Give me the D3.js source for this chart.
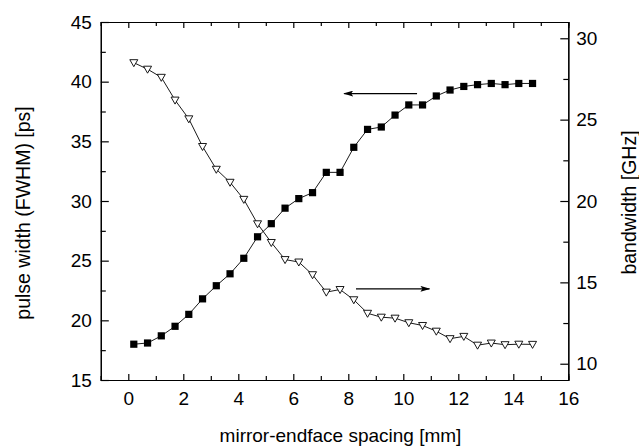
<!DOCTYPE html>
<html>
<head>
<meta charset="utf-8">
<script src="https://cdn.jsdelivr.net/npm/d3@7"></script>
<style>
  body { margin: 0; background: #fff; }
  svg text { font-family: Arial, "Liberation Sans", sans-serif; fill: #000; }
  .axis path, .axis line { stroke: #000; stroke-width: 1.2; }
</style>
</head>
<body>
<div class="chart"></div>
<script>
const spacing = [0.2, 0.7, 1.2, 1.7, 2.2, 2.7, 3.2, 3.7, 4.2, 4.7, 5.2, 5.7, 6.2, 6.7, 7.2,
                 7.7, 8.2, 8.7, 9.2, 9.7, 10.2, 10.7, 11.2, 11.7, 12.2, 12.7, 13.2, 13.7, 14.2, 14.7];
const pulseWidth = [18.0, 18.1, 18.7, 19.5, 20.5, 21.8, 22.9, 23.9, 25.2, 27.0, 28.1, 29.4, 30.2, 30.7, 32.4,
                    32.4, 34.5, 36.0, 36.2, 37.2, 38.05, 38.05, 38.8, 39.3, 39.6, 39.75, 39.85, 39.75, 39.85, 39.85];
const bandwidth = [28.5, 28.1, 27.6, 26.2, 25.05, 23.35, 21.95, 21.15, 20.1, 18.6, 17.45, 16.4, 16.25, 15.47, 14.4,
                   14.56, 13.93, 13.1, 12.86, 12.8, 12.52, 12.35, 12.0, 11.54, 11.68, 11.14, 11.27, 11.17, 11.2, 11.19];
const xTicks = [0, 2, 4, 6, 8, 10, 12, 14, 16];
const xMinor = [-1, 1, 3, 5, 7, 9, 11, 13, 15];
const leftTicks = [15, 20, 25, 30, 35, 40, 45];
const leftMinor = [17.5, 22.5, 27.5, 32.5, 37.5, 42.5];
const rightTicks = [10, 15, 20, 25, 30];
const rightMinor = [12.5, 17.5, 22.5, 27.5];

const width = 639;
const height = 448;
const margin = {top: 22, right: 70.7, bottom: 68, left: 100.8};

const svg = d3.select('.chart')
  .append('svg')
  .attr('width', width)
  .attr('height', height);

const xScale = d3.scaleLinear().domain([-1, 16]).range([margin.left, width - margin.right]);
const yLeft = d3.scaleLinear().domain([15, 45]).range([height - margin.bottom, margin.top]);
const yRight = d3.scaleLinear().domain([9, 31]).range([height - margin.bottom, margin.top]);

const bottom = height - margin.bottom;
const right = width - margin.right;

function styleAxis(g) {
  g.attr('class', 'axis');
  g.selectAll('text').style('font-size', '19px');
}

// major axes with inward ticks
svg.append('g').attr('transform', `translate(0,${bottom})`)
  .call(d3.axisBottom(xScale).tickValues(xTicks).tickSizeInner(-6).tickSizeOuter(0).tickPadding(12))
  .call(styleAxis);
svg.append('g').attr('transform', `translate(0,${margin.top})`)
  .call(d3.axisTop(xScale).tickValues(xTicks).tickSizeInner(-6).tickSizeOuter(0).tickFormat(''))
  .call(styleAxis);
svg.append('g').attr('transform', `translate(${margin.left},0)`)
  .call(d3.axisLeft(yLeft).tickValues(leftTicks).tickSizeInner(-8).tickSizeOuter(0).tickPadding(9))
  .call(styleAxis);
svg.append('g').attr('transform', `translate(${right},0)`)
  .call(d3.axisRight(yRight).tickValues(rightTicks).tickSizeInner(-8).tickSizeOuter(0).tickPadding(8))
  .call(styleAxis);

// minor ticks
svg.append('g').attr('transform', `translate(0,${bottom})`)
  .call(d3.axisBottom(xScale).tickValues(xMinor).tickSize(-4).tickFormat(''))
  .call(styleAxis);
svg.append('g').attr('transform', `translate(0,${margin.top})`)
  .call(d3.axisTop(xScale).tickValues(xMinor).tickSize(-4).tickFormat(''))
  .call(styleAxis);
svg.append('g').attr('transform', `translate(${margin.left},0)`)
  .call(d3.axisLeft(yLeft).tickValues(leftMinor).tickSize(-5).tickFormat(''))
  .call(styleAxis);
svg.append('g').attr('transform', `translate(${right},0)`)
  .call(d3.axisRight(yRight).tickValues(rightMinor).tickSize(-5).tickFormat(''))
  .call(styleAxis);

// axis titles
svg.append('text')
  .attr('x', 340.5)
  .attr('y', 442)
  .attr('text-anchor', 'middle')
  .style('font-size', '19px')
  .text('mirror-endface spacing [mm]');

svg.append('text')
  .attr('transform', 'translate(30,213) rotate(-90)')
  .attr('text-anchor', 'middle')
  .style('font-size', '19.5px')
  .text('pulse width (FWHM) [ps]');

svg.append('text')
  .attr('transform', 'translate(636,202.5) rotate(-90)')
  .attr('text-anchor', 'middle')
  .style('font-size', '19.5px')
  .text('bandwidth [GHz]');

// connecting lines
const pulseLine = d3.line().x((d, i) => xScale(spacing[i])).y(d => yLeft(d));
const bwLine = d3.line().x((d, i) => xScale(spacing[i])).y(d => yRight(d));

svg.append('path')
  .datum(bandwidth)
  .attr('d', bwLine)
  .attr('fill', 'none')
  .attr('stroke', '#000')
  .attr('stroke-width', 0.9);

svg.append('path')
  .datum(pulseWidth)
  .attr('d', pulseLine)
  .attr('fill', 'none')
  .attr('stroke', '#000')
  .attr('stroke-width', 0.9);

// markers
svg.selectAll('.tri')
  .data(bandwidth)
  .enter()
  .append('path')
  .attr('class', 'tri')
  .attr('d', 'M-4,-3L4,-3L0,4Z')
  .attr('transform', (d, i) => `translate(${xScale(spacing[i])},${yRight(d)})`)
  .attr('fill', '#fff')
  .attr('stroke', '#000')
  .attr('stroke-width', 0.9);

svg.selectAll('.sq')
  .data(pulseWidth)
  .enter()
  .append('rect')
  .attr('class', 'sq')
  .attr('x', (d, i) => xScale(spacing[i]) - 3.6)
  .attr('y', d => yLeft(d) - 3.6)
  .attr('width', 7.2)
  .attr('height', 7.2)
  .attr('fill', '#000');

// arrows pointing to the axis for each series
const defs = svg.append('defs');
defs.append('marker')
  .attr('id', 'head')
  .attr('viewBox', '0 0 10 6')
  .attr('refX', 9)
  .attr('refY', 3)
  .attr('markerWidth', 10)
  .attr('markerHeight', 6)
  .attr('markerUnits', 'userSpaceOnUse')
  .attr('orient', 'auto')
  .append('path')
  .attr('d', 'M0,0L10,3L0,6L2,3Z')
  .attr('fill', '#000');

const leftArrow = [10.5, 7.85, 39.0];
const rightArrow = [8.28, 10.95, 14.6];

svg.append('line')
  .attr('x1', xScale(leftArrow[0]))
  .attr('x2', xScale(leftArrow[1]))
  .attr('y1', yLeft(leftArrow[2]))
  .attr('y2', yLeft(leftArrow[2]))
  .attr('stroke', '#000')
  .attr('stroke-width', 1.2)
  .attr('marker-end', 'url(#head)');

svg.append('line')
  .attr('x1', xScale(rightArrow[0]))
  .attr('x2', xScale(rightArrow[1]))
  .attr('y1', yRight(rightArrow[2]))
  .attr('y2', yRight(rightArrow[2]))
  .attr('stroke', '#000')
  .attr('stroke-width', 1.2)
  .attr('marker-end', 'url(#head)');
</script>
</body>
</html>
